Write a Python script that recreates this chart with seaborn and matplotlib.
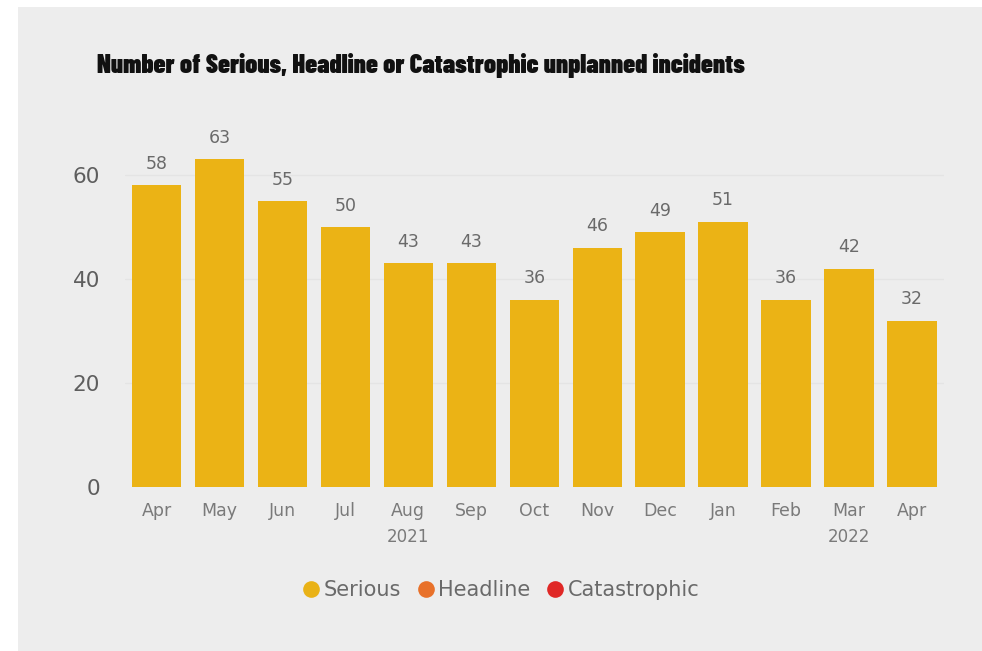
import numpy as np
import pandas as pd
import matplotlib.pyplot as plt
import seaborn as sns
from matplotlib.lines import Line2D
from matplotlib.patches import Rectangle

# -- data ---------------------------------------------
periods = ["Apr 2021", "May 2021", "Jun 2021", "Jul 2021", "Aug 2021", "Sep 2021",
           "Oct 2021", "Nov 2021", "Dec 2021", "Jan 2022", "Feb 2022", "Mar 2022", "Apr 2022"]
months = ["Apr", "May", "Jun", "Jul", "Aug", "Sep", "Oct", "Nov", "Dec", "Jan", "Feb", "Mar", "Apr"]
serious = [58, 63, 55, 50, 43, 43, 36, 46, 49, 51, 36, 42, 32]
years = ["2021", "2022"]
year_pos = [4, 11]
legend_names = ["Serious", "Headline", "Catastrophic"]
legend_cols = ["#e9b217", "#e8712a", "#e02826"]

bar_col = "#ebb315"
txt_col = "#6a6a6a"

df = pd.DataFrame({"period": periods, "count": serious})

sns.set_style("white")
plt.rcParams['font.family'] = ['DejaVu Sans']

fig = plt.figure(figsize=(9.82, 6.51), dpi=100)
fig.patch.set_facecolor("white")
# grey panel behind everything
fig.patches.append(Rectangle((18 / 982, 0), 1, (651 - 7) / 651, transform=fig.transFigure,
                             facecolor="#ededed", edgecolor="none", zorder=-10))

ax = fig.add_axes([0.1273, 0.2519, 0.8335, 0.559])
ax.set_facecolor("none")
sns.barplot(data=df, x="period", y="count", color=bar_col, saturation=1,
            width=0.785, linewidth=0, ax=ax, zorder=3)

ax.set_ylim(0, 70)
ax.set_yticks([0, 20, 40, 60])
for yy in [20, 40, 60]:
    ax.axhline(yy, color="#e4e4e4", lw=0.9, zorder=1)
ax.tick_params(axis="y", labelsize=15.5, labelcolor="#5e5e5e", length=0, pad=18)
ax.set_xticks(range(len(months)))
ax.set_xticklabels(months)
ax.tick_params(axis="x", labelsize=12.5, labelcolor="#7a7a7a", length=0, pad=11)
ax.set_xlabel("")
ax.set_ylabel("")
sns.despine(ax=ax, left=True, bottom=True)

ax.bar_label(ax.containers[0], padding=9, fontsize=12.5, color=txt_col)

# year labels under the months
for yr, xp in zip(years, year_pos):
    ax.text(xp, -0.137, yr, transform=ax.get_xaxis_transform(), ha="center", va="center",
            fontsize=12, color="#7a7a7a")

# legend
handles = [Line2D([], [], marker="o", ls="", markersize=12, markerfacecolor=c,
                  markeredgecolor="none") for c in legend_cols]
fig.legend(handles, legend_names, loc="center", bbox_to_anchor=(499 / 982, 1 - 590 / 651),
           ncol=3, frameon=False, fontsize=15, labelcolor="#6a6a6a",
           handletextpad=0.0, columnspacing=0.6, handlelength=1.2)

# title
fig.text(97 / 982, 1 - 66 / 651, "Number of Serious, Headline or Catastrophic unplanned incidents",
         fontsize=19, fontweight=900, color="#111111",
         va="center", ha="left", family=["Barlow Condensed", "DejaVu Sans"])

plt.savefig("out.png", dpi=100, facecolor=fig.get_facecolor())
